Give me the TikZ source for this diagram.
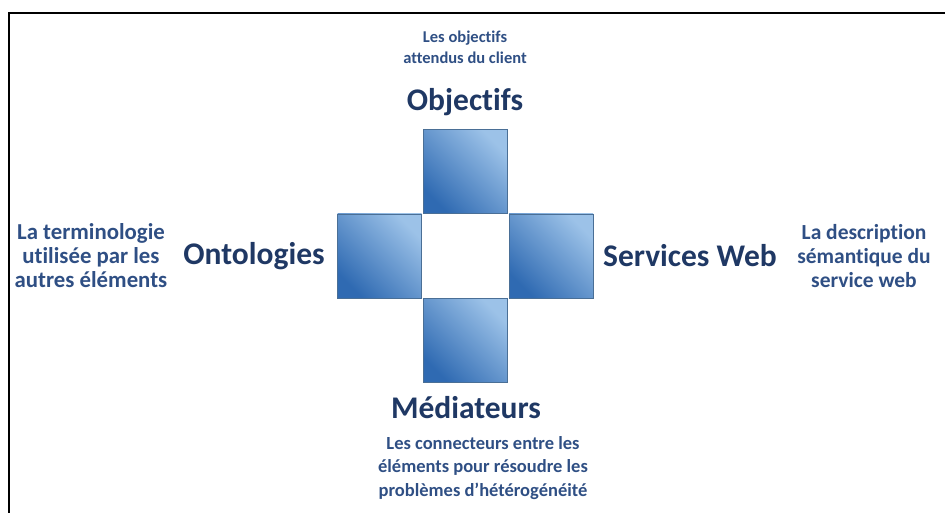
\documentclass[tikz,border=0pt]{standalone}
\usepackage{fontspec}
\setmainfont{Carlito}[Ligatures=NoCommon]
\definecolor{navy}{HTML}{1F3864}
\definecolor{descblue}{HTML}{2F4F84}
\definecolor{sqlight}{HTML}{9CC2E8}
\definecolor{sqmid}{HTML}{5B95D2}
\definecolor{sqdark}{HTML}{2F6AB2}
\definecolor{sqedge}{HTML}{4A6F96}
\tikzset{
	bloc/.style={draw=sqedge, line width=0.6pt, minimum size=84pt, inner sep=0pt,
		top color=sqlight, middle color=sqmid, bottom color=sqdark, shading angle=-45},
	titre/.style={text=navy, font=\bfseries\fontsize{31.5}{34}\selectfont},
	desc/.style={text=descblue, align=center}
}
\begin{document}
\begin{tikzpicture}[x=1pt,y=-1pt]
		\useasboundingbox (0,0) rectangle (945,513);
		\draw[line width=1.5pt] (9,513) -- (9,13) -- (945,13);

		\node[bloc] (haut) at (465,171.5) {};
		\node[bloc] (gauche) at (379.5,256) {};
		\node[bloc] (droite) at (551,256) {};
		\node[bloc] (bas) at (465,340.5) {};

		\node[titre] (objectifs) at (465,102) {Objectifs};
		\node[titre] (ontologies) at (254,256) {Ontologies};
		\node[titre] (services) at (690,256) {Services Web};
		\node[titre] (mediateurs) at (466,408) {Médiateurs};

		\node[desc, font=\bfseries\fontsize{16.5}{21}\selectfont] (dobj) at (465,47) {Les objectifs\\attendus du client};
		\node[desc, font=\bfseries\fontsize{22.8}{24}\selectfont] (donto) at (91,256) {La terminologie\\utilisée par les\\autres éléments};
		\node[desc, font=\bfseries\fontsize{21.5}{24}\selectfont] (dserv) at (864,256) {La description\\sémantique du\\service web};
		\node[desc, font=\bfseries\fontsize{18.5}{23.5}\selectfont] (dmed) at (483,468) {Les connecteurs entre les\\éléments pour résoudre les\\problèmes d’hétérogénéité};
	\end{tikzpicture}
\end{document}
